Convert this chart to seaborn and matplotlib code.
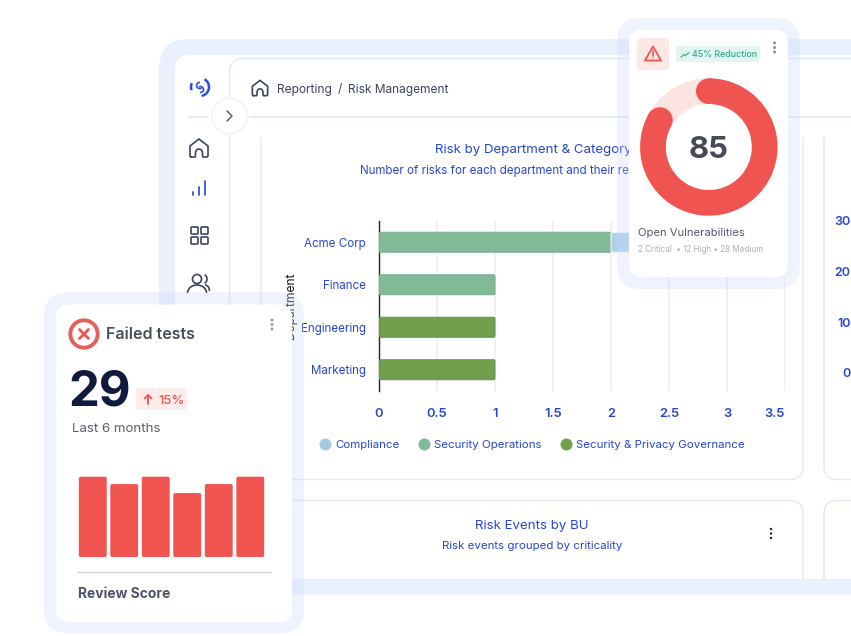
import matplotlib
matplotlib.use("Agg")
import numpy as np
import matplotlib.pyplot as plt
import seaborn as sns
from matplotlib.lines import Line2D
from matplotlib.patches import Circle, FancyBboxPatch, Polygon, Arc

# Risk by department chart
departments = ["Acme Corp", "Finance", "Engineering", "Marketing"]
security_ops = [2, 1, 0, 0]
compliance = [1, 0, 0, 0]  # runs under the vulnerabilities card, length is a guess
governance = [0, 0, 1, 1]
x_ticks = [0, 0.5, 1, 1.5, 2, 2.5, 3, 3.5]
x_tick_labels = ["0", "0.5", "1", "1.5", "2", "2.5", "3", "3.5"]
legend_labels = ["Compliance", "Security Operations", "Security & Privacy Governance"]

# Failed tests card
months = ["m1", "m2", "m3", "m4", "m5", "m6"]
review_scores = [100, 91, 100, 80, 91, 100]

# Vulnerabilities donut, share of the ring
donut_shares = [83, 17]

# Numbers peeking in at the right edge
right_ticks = ["30", "20", "10", "0"]

BLUE = "#2646D9"
DARK = "#3C4460"
RED = "#F05451"
C_COMP = "#AFD0E8"
C_OPS = "#80BA96"
C_GOV = "#729F4B"
W, H = 851, 636
PX = 0.72  # one pixel in points at dpi 100

sns.set_theme(style="white")
plt.rcParams["font.family"] = ["Inter", "DejaVu Sans"]


def px_axes(x0, y0, x1, y1, zorder):
    return fig.add_axes([x0 / W, 1 - y1 / H, (x1 - x0) / W, (y1 - y0) / H], zorder=zorder)


def box(ax, x0, y0, x1, y1, r, **kw):
    kw.setdefault("lw", 0)
    p = FancyBboxPatch((x0, y0), x1 - x0, y1 - y0, boxstyle=f"round,pad=0,rounding_size={r}", **kw)
    ax.add_patch(p)
    return p


def stroke(ax, pts, color=DARK, lw=1.2, closed=False, z=5):
    pts = np.array(pts, dtype=float)
    if closed:
        pts = np.vstack([pts, pts[:1]])
    ax.plot(pts[:, 0], pts[:, 1], color=color, lw=lw, solid_capstyle="round",
            solid_joinstyle="round", zorder=z)


def home_icon(ax, cx, cy, s=1.0):
    pts = [(-8, 9), (-9, 8), (-9, -2), (0, -9), (9, -2), (9, 8), (8, 9), (4, 9), (3.5, 8),
           (3.5, 4), (2, 1.5), (0, 1), (-2, 1.5), (-3.5, 4), (-3.5, 8), (-4, 9)]
    stroke(ax, [(cx + a * s, cy + b * s) for a, b in pts], closed=True)


def round_bars(ax, r_px, x_per_px, y_per_px):
    # swap the rectangles seaborn drew for rounded ones with the same geometry
    for bar in list(ax.patches):
        b = bar.get_bbox()
        if abs(b.width) < 1e-9 or abs(b.height) < 1e-9:
            bar.set_visible(False)
            continue
        ax.add_patch(FancyBboxPatch((min(b.x0, b.x1), min(b.y0, b.y1)), abs(b.width), abs(b.height),
                                    boxstyle=f"round,pad=0,rounding_size={r_px * x_per_px}",
                                    mutation_aspect=y_per_px / x_per_px,
                                    fc=bar.get_facecolor(), ec=bar.get_edgecolor(),
                                    lw=bar.get_linewidth(), zorder=3))
        bar.set_visible(False)


fig = plt.figure(figsize=(W / 100, H / 100), dpi=100, facecolor="white")

# ---- page behind everything
back = px_axes(0, 0, W, H, 0)
back.set_xlim(0, W)
back.set_ylim(H, 0)
back.axis("off")

box(back, 159, 39, 950, 595, 30, fc="#EAF0FD")
box(back, 175, 55, 950, 579, 15, fc="white")
line_c = "#E3E8F8"
box(back, 229.5, 58.5, 950, 640, 14, fc="white", ec=line_c, lw=1)

# panels, their tops are hidden by a white strip so only the sides show from y=137
box(back, 261, 105, 803, 479.5, 13, fc="none", ec=line_c, lw=1, zorder=2)
box(back, 824, 105, 950, 479.5, 13, fc="none", ec=line_c, lw=1, zorder=2)
box(back, 261, 500.5, 803, 640, 13, fc="none", ec=line_c, lw=1, zorder=2)
box(back, 824, 500.5, 950, 640, 13, fc="none", ec=line_c, lw=1, zorder=2)
back.add_patch(plt.Rectangle((232, 100), 640, 37, fc="white", lw=0, zorder=2.1))
back.add_patch(plt.Rectangle((175, 579), 700, 16, fc="#EAF0FD", lw=0, zorder=2.2))
back.add_patch(plt.Rectangle((159, 595), 700, 60, fc="white", lw=0, zorder=2.2))
back.plot([250, W], [117, 117], color="#E6ECFB", lw=1.5, zorder=2.3)
back.plot([189, 208], [116.5, 116.5], color="#E6ECFB", lw=1.5, zorder=2.3)

# chevron button
back.add_patch(Circle((229.5, 116), 18.5, fc="#F3F4F8", lw=0, zorder=3))
back.add_patch(Circle((229.5, 116), 17, fc="white", lw=0, zorder=3.1))
stroke(back, [(227, 111), (232, 116), (227, 121)], color="#5A6280", lw=1.1)

# sidebar icons
back.add_patch(Arc((200, 87), 18, 18, theta1=-60, theta2=80, color="#2B4FD9", lw=1.8, zorder=5))
back.add_patch(Arc((200, 87), 18, 18, theta1=160, theta2=205, color="#2B4FD9", lw=1.8, zorder=5))
back.add_patch(Arc((200, 85.5), 7, 6, theta1=60, theta2=270, color="#2B4FD9", lw=1.2, zorder=5))
back.add_patch(Arc((200, 89.5), 7, 6, theta1=-110, theta2=90, color="#2B4FD9", lw=1.2, zorder=5))
home_icon(back, 199, 148)
for xb, top in zip([193, 199, 204.5], [192, 187, 181]):
    stroke(back, [(xb, 195), (xb, top)], color="#3355DD", lw=1.3)
for gx, gy in [(191, 227), (201, 227), (191, 237), (201, 237)]:
    box(back, gx, gy, gx + 7, gy + 7, 1, fc="none", ec=DARK, lw=1.2, zorder=5)
back.add_patch(Circle((197, 279), 4.5, fc="none", ec=DARK, lw=1.2, zorder=5))
back.add_patch(Arc((197, 293), 19, 16, theta1=180, theta2=360, color=DARK, lw=1.2, zorder=5))
back.add_patch(Arc((203, 279), 8, 9, theta1=-70, theta2=70, color=DARK, lw=1.2, zorder=5))
back.add_patch(Arc((205, 291), 9, 12, theta1=270, theta2=360, color=DARK, lw=1.2, zorder=5))

# breadcrumb
home_icon(back, 260, 88, 0.85)
back.text(277, 90, "Reporting", fontsize=12 * PX, color=DARK, va="center")
back.text(338, 89.5, "/", fontsize=12 * PX, color=DARK, va="center")
back.text(348, 90, "Risk Management", fontsize=11.9 * PX, color=DARK, va="center")

# chart headings, the subtitle slides under the card just like the original
back.text(435, 150.5, "Risk by Department & Category", fontsize=13.3 * PX, color=BLUE, va="center")
back.text(360, 171, "Number of risks for each department and their relative category",
          fontsize=11.6 * PX, color=BLUE, va="center")

back.text(532, 525.5, "Risk Events by BU", fontsize=13.3 * PX, color=BLUE, va="center", ha="center")
back.text(532, 546, "Risk events grouped by criticality", fontsize=11.5 * PX, color=BLUE, va="center", ha="center")
for yd in [529, 533.5, 538]:
    back.add_patch(Circle((771, yd), 1.2, fc="#222222", lw=0, zorder=5))

for yt, label in zip([222, 273, 324, 374], right_ticks):
    back.text(850.5, yt, label, fontsize=12.5 * PX, color=BLUE, va="center", ha="right", fontweight="semibold")

# ---- stacked bar chart
ax = px_axes(379, 221, 785, 391, 1)
ax.patch.set_alpha(0)
left = np.zeros(len(departments))
for values, color, edge in [(security_ops, C_OPS, "#74AE8A"),
                            (compliance, C_COMP, "white"),
                            (governance, C_GOV, "#668F43")]:
    sns.barplot(x=values, y=departments, orient="h", color=color, width=0.47, saturation=1,
                left=left, edgecolor=edge, linewidth=0.7, ax=ax, zorder=3)
    left = left + np.array(values)
ax.set_xlim(0, 3.5)
ax.set_ylim(3.5, -0.5)
round_bars(ax, 1.5, 3.5 / 406, 4 / 170)
sns.despine(ax=ax, top=True, right=True, bottom=True, left=False)
ax.spines["left"].set_color("#222222")
ax.spines["left"].set_linewidth(1)
ax.grid(axis="x", color="#EDEDED", lw=1.2, zorder=0)
ax.set_axisbelow(True)
ax.set_xticks(x_ticks)
ax.set_xticklabels(x_tick_labels, fontsize=13 * PX, color=BLUE, fontweight="semibold")
ax.get_xticklabels()[-1].set_ha("right")
ax.tick_params(axis="x", length=0, pad=12.5)
ax.tick_params(axis="y", length=0, pad=9.5, labelsize=11.6 * PX, labelcolor=BLUE)
ax.set_ylabel("Department", fontsize=12 * PX, color="#111111", labelpad=0)
ax.yaxis.set_label_coords((297 - 379) / 406, 0.5)

handles = [Line2D([], [], ls="none", marker="o", ms=12 * PX, mfc=c, mec=c, mew=0)
           for c in ["#A3CBE3", C_OPS, C_GOV]]
ax.legend(handles, legend_labels, ncol=3, frameon=False, loc="center left",
          bbox_to_anchor=((319 - 379) / 406, (391 - 445) / 170), fontsize=11.5 * PX,
          labelcolor=BLUE, handlelength=1, handletextpad=0.4, columnspacing=1.6, borderpad=0, borderaxespad=0)

# ---- floating cards
cards = px_axes(0, 0, W, H, 2)
cards.set_xlim(0, W)
cards.set_ylim(H, 0)
cards.axis("off")
cards.patch.set_alpha(0)

halo = dict(fc="#C8D8FA", alpha=0.3)
box(cards, 44, 292.5, 304, 633.5, 24, **halo)
box(cards, 56, 304.5, 292, 622, 13, fc="white")
box(cards, 617, 18, 800, 289, 24, **halo)
box(cards, 629, 30, 788, 277, 13, fc="white")

# failed tests
cards.add_patch(Circle((84, 334), 13.7, fc="white", ec="#E0625A", lw=3 * PX * 1.3, zorder=5))
stroke(cards, [(79.5, 329.5), (88.5, 338.5)], color=RED, lw=2)
stroke(cards, [(88.5, 329.5), (79.5, 338.5)], color=RED, lw=2)
cards.text(106, 334.5, "Failed tests", fontsize=16 * PX, color="#4A4D5C", va="center", fontweight="semibold")
for yd in [320, 324.5, 329]:
    cards.add_patch(Circle((272, yd), 1.5, fc="#9A9DAB", lw=0, zorder=5))
cards.text(68.5, 393, "29", fontsize=49 * PX, color="#0F1A3D", va="center", fontweight="bold")
box(cards, 136, 388, 187, 410, 4, fc="#FDECEA")
stroke(cards, [(148, 404), (148, 395)], color=RED, lw=1.3)
stroke(cards, [(144.5, 398.5), (148, 395), (151.5, 398.5)], color=RED, lw=1.3)
cards.text(158, 400.5, "15%", fontsize=13 * PX, color=RED, va="center", fontweight="medium")
cards.text(72, 429, "Last 6 months", fontsize=13.3 * PX, color="#5A5E70", va="center")
cards.plot([77, 271], [571.5, 571.5], color="#D5D5DA", lw=1)
cards.text(78, 594, "Review Score", fontsize=13.9 * PX, color="#4F5368", va="center", fontweight="bold")

# vulnerabilities
box(cards, 637, 38, 669, 70, 4, fc="#FEE8E4")
cards.add_patch(Polygon([(653, 46.5), (661, 60.5), (645, 60.5)], closed=True, fc="none", ec=RED, lw=1.3, joinstyle="round", zorder=5))
stroke(cards, [(653, 51), (653, 55.5)], color=RED, lw=1.2)
cards.add_patch(Circle((653, 58), 0.7, fc=RED, lw=0, zorder=5))
box(cards, 676, 46, 760, 62, 3, fc="#E1F5F1")
stroke(cards, [(681, 57), (684, 54.5), (685.5, 55.5), (689, 52.5)], color="#2FA893", lw=0.8)
cards.text(692, 54.8, "45% Reduction", fontsize=8.9 * PX, color="#2FA893", va="center", fontweight="medium")
for yd in [43, 47.5, 52]:
    cards.add_patch(Circle((774.5, yd), 1.5, fc="#8A8FA3", lw=0, zorder=5))
cards.text(638, 233, "Open Vulnerabilities", fontsize=11.2 * PX, color="#555A70", va="center")
cards.text(638, 250, "2 Critical  • 12 High • 28 Medium", fontsize=8.1 * PX, color="#B0B0B0", va="center")

# ---- review score bars
ax_bars = px_axes(77, 476, 266, 557.7, 3)
ax_bars.patch.set_alpha(0)
sns.barplot(x=months, y=review_scores, color=RED, width=0.93, saturation=1, ax=ax_bars)
ax_bars.set_xlim(-0.5, 5.5)
ax_bars.set_ylim(0, 100)
round_bars(ax_bars, 2.5, 6 / 189, 100 / 81.7)
ax_bars.axis("off")

# ---- donut
ax_donut = px_axes(708.8 - 68.7, 147 - 68.7, 708.8 + 68.7, 147 + 68.7, 3)
wedges, _ = ax_donut.pie(donut_shares, colors=[RED, "#FDE4E1"], startangle=90, counterclock=False,
                         radius=1, wedgeprops=dict(width=25.7 / 68.7, lw=0))
ax_donut.set_xlim(-1, 1)
ax_donut.set_ylim(-1, 1)
mid_r = 1 - 12.85 / 68.7
for ang in [wedges[0].theta1, wedges[0].theta2]:
    ax_donut.add_patch(Circle((mid_r * np.cos(np.radians(ang)), mid_r * np.sin(np.radians(ang))),
                              12.85 / 68.7, fc=RED, lw=0, zorder=4))
ax_donut.text(0, -0.04, "85", fontsize=31 * PX, fontweight="bold", color="#46495A", ha="center", va="center", zorder=6)

fig.savefig("out.png", dpi=100)
